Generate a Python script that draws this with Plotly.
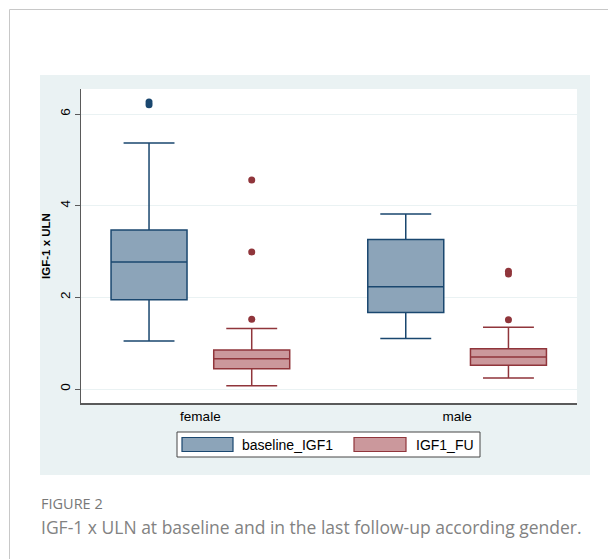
import plotly.graph_objects as go

# ---- data ----
categories = ["female", "male"]

base_q1 = [1.95, 1.67]
base_median = [2.77, 2.23]
base_q3 = [3.47, 3.26]
base_lower = [1.05, 1.10]
base_upper = [5.37, 3.82]
base_outliers = [[6.20, 6.26], []]

fu_q1 = [0.44, 0.52]
fu_median = [0.66, 0.70]
fu_q3 = [0.85, 0.88]
fu_lower = [0.07, 0.24]
fu_upper = [1.32, 1.35]
fu_outliers = [[1.52, 2.99, 4.56], [1.51, 2.51, 2.57]]

y_ticks = [0, 2, 4, 6]
series_names = ["baseline_IGF1", "IGF1_FU"]

# ---- styles ----
BLUE_LINE = "rgb(26,71,111)"
BLUE_FILL = "rgb(140,164,185)"
RED_LINE = "rgb(144,53,59)"
RED_FILL = "rgb(203,152,156)"
BG = "rgb(234,242,243)"
AXIS = "rgb(90,90,90)"

OFF = 8  # page body margin of the html page
W, H = 616 - OFF, 559 - OFF
ML, MT = 81 - OFF, 89 - OFF
MR = W - (577 - OFF)
MB = H - (403 - OFF)
PW, PH = W - ML - MR, H - MT - MB


def px(xp):
    return (xp - OFF - ML) / PW


def py(yp):
    return (H - MB - (yp - OFF)) / PH


fig = go.Figure()
fig.add_trace(go.Box(
    name=series_names[0], x=categories, y=base_outliers, orientation="v",
    q1=base_q1, median=base_median, q3=base_q3,
    lowerfence=base_lower, upperfence=base_upper,
    boxpoints="outliers", pointpos=0, jitter=0,
    fillcolor=BLUE_FILL, line=dict(color=BLUE_LINE, width=1.5),
    marker=dict(color=BLUE_LINE, size=7), whiskerwidth=0.67,
    showlegend=False, hoverinfo="skip",
))
fig.add_trace(go.Box(
    name=series_names[1], x=categories, y=fu_outliers, orientation="v",
    q1=fu_q1, median=fu_median, q3=fu_q3,
    lowerfence=fu_lower, upperfence=fu_upper,
    boxpoints="outliers", pointpos=0, jitter=0,
    fillcolor=RED_FILL, line=dict(color=RED_LINE, width=1.5),
    marker=dict(color=RED_LINE, size=7), whiskerwidth=0.67,
    showlegend=False, hoverinfo="skip",
))

shapes = [
    # card border
    dict(type="line", xref="paper", yref="paper", x0=px(9.5), x1=px(620), y0=py(9.5), y1=py(9.5),
         line=dict(color="rgb(200,200,200)", width=1)),
    dict(type="line", xref="paper", yref="paper", x0=px(9.5), x1=px(9.5), y0=py(9.5), y1=py(565),
         line=dict(color="rgb(200,200,200)", width=1)),
    # graph region background
    dict(type="rect", xref="paper", yref="paper", x0=px(40), x1=px(590), y0=py(75), y1=py(475),
         fillcolor=BG, line=dict(width=0), layer="below"),
    dict(type="rect", xref="paper", yref="paper", x0=0, x1=1, y0=0, y1=1,
         fillcolor="white", line=dict(width=0), layer="below"),
    # legend
    dict(type="rect", xref="paper", yref="paper", x0=px(177), x1=px(480), y0=py(432), y1=py(457),
         fillcolor="white", line=dict(color="rgb(70,70,70)", width=1)),
    dict(type="rect", xref="paper", yref="paper", x0=px(182), x1=px(233), y0=py(437.5), y1=py(451.5),
         fillcolor=BLUE_FILL, line=dict(color=BLUE_LINE, width=1.2)),
    dict(type="rect", xref="paper", yref="paper", x0=px(354), x1=px(406), y0=py(437.5), y1=py(451.5),
         fillcolor=RED_FILL, line=dict(color=RED_LINE, width=1.2)),
]

annotations = [
    dict(text=series_names[0], xref="paper", yref="paper", x=px(240), y=py(445),
         xanchor="left", yanchor="middle", showarrow=False,
         font=dict(family="Liberation Sans, Arial", size=14, color="black")),
    dict(text=series_names[1], xref="paper", yref="paper", x=px(414), y=py(445),
         xanchor="left", yanchor="middle", showarrow=False,
         font=dict(family="Liberation Sans, Arial", size=14, color="black")),
    dict(text="FIGURE 2", xref="paper", yref="paper", x=px(39), y=py(503),
         xanchor="left", yanchor="middle", showarrow=False,
         font=dict(family="Open Sans", size=14.5, color="rgb(120,120,120)")),
    dict(text="IGF-1 x ULN at baseline and in the last follow-up according gender.",
         xref="paper", yref="paper", x=px(39), y=py(527),
         xanchor="left", yanchor="middle", showarrow=False,
         font=dict(family="Open Sans", size=17.5, color="rgb(130,130,130)")),
]

fig.update_layout(
    width=W, height=H, autosize=False,
    margin=dict(l=ML, r=MR, t=MT, b=MB, pad=0),
    paper_bgcolor="white", plot_bgcolor="white",
    boxmode="group", boxgap=0.2, boxgroupgap=0.26,
    shapes=shapes, annotations=annotations,
    font=dict(family="Liberation Sans, Arial", color="black"),
    xaxis=dict(type="category", range=[-0.465, 1.467], showline=True, linecolor=AXIS,
               linewidth=1.5, ticks="", showgrid=False, zeroline=False,
               tickfont=dict(size=13.5, color="black")),
    yaxis=dict(range=[-0.305, 6.546], tickvals=y_ticks, tickangle=-90,
               ticks="outside", ticklen=5, tickcolor=AXIS, showline=True,
               linecolor=AXIS, linewidth=1, gridcolor=BG, gridwidth=1,
               zeroline=False, tickfont=dict(size=13.5, color="black"),
               title=dict(text="<b>IGF-1 x ULN</b>", standoff=4,
                          font=dict(size=11.5, color="black"))),
)

fig.write_html("out.html")
